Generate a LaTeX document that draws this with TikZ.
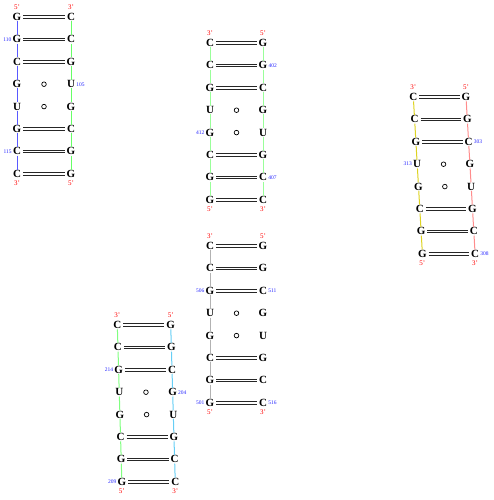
\documentclass[tikz,border=0pt]{standalone}
\usepackage{fontspec}
\setmainfont{Liberation Serif}
\usetikzlibrary{positioning,calc}

\tikzset{
  nt/.style={font=\fontsize{11}{11}\selectfont\bfseries, inner sep=0.6pt, text height=7pt, text depth=0pt},
  prime/.style={text=red, font=\fontsize{7}{7}\selectfont, inner sep=0pt},
  num/.style={text=blue!85, font=\fontsize{5.5}{5.5}\selectfont, inner sep=0.3pt},
  wc/.style={line width=0.85pt, black!85, shorten <=1.2pt, shorten >=1.2pt},
  gu/.style={circle, draw, minimum size=4.6pt, inner sep=0pt, line width=0.7pt},
  bb/.style={line width=1pt},
}

% one stem: name, left x, right x, shift per row, top y, rows
\newcommand{\stem}[6]{%
  \foreach \i/\a/\b in {#6}{
    \node[nt] (#1l\i) at ({#2+#4*(\i-1)},{#5+22.4*(\i-1)}) {\a};
    \node[nt] (#1r\i) at ({#3+#4*(\i-1)},{#5+22.4*(\i-1)}) {\b};
  }
  \foreach \i in {1,2,3,6,7,8}{
    \draw[wc] ([yshift=1.15pt]#1l\i.east) -- ([yshift=1.15pt]#1r\i.west);
    \draw[wc] ([yshift=-1.15pt]#1l\i.east) -- ([yshift=-1.15pt]#1r\i.west);
  }
  \foreach \i in {4,5} \node[gu] (#1w\i) at ($(#1l\i)!0.5!(#1r\i)$) {};
}
% backbone of one strand
\newcommand{\strand}[2]{%
  \foreach \i [evaluate=\i as \j using int(\i+1)] in {1,...,7} \draw[bb, #2] (#1\i) -- (#1\j);
}

\begin{document}
\begin{tikzpicture}[x=1pt, y=-1pt]
  \useasboundingbox (0,0) rectangle (493,500);

  % Helix 1
  \stem{h1}{17}{71}{0}{17}{1/G/C,2/G/C,3/C/G,4/G/U,5/U/G,6/G/C,7/C/G,8/C/G}
  \strand{h1l}{blue!65}
  \strand{h1r}{green!60}
  \node[prime, above=2.5pt of h1l1] (h1lt) {5'};
  \node[prime, above=2.5pt of h1r1] (h1rt) {3'};
  \node[prime, below=2.5pt of h1l8] (h1lb) {3'};
  \node[prime, below=2.5pt of h1r8] (h1rb) {5'};
  \node[num, left=0pt of h1l2] (n110) {110};
  \node[num, right=0pt of h1r4] (n105) {105};
  \node[num, left=0pt of h1l7] (n115) {115};

  % Helix 2
  \stem{h2}{210}{263}{0}{43}{1/C/G,2/C/G,3/G/C,4/U/G,5/G/U,6/C/G,7/G/C,8/G/C}
  \strand{h2l}{green!40}
  \strand{h2r}{green!40}
  \node[prime, above=2.5pt of h2l1] (h2lt) {3'};
  \node[prime, above=2.5pt of h2r1] (h2rt) {5'};
  \node[prime, below=2.5pt of h2l8] (h2lb) {5'};
  \node[prime, below=2.5pt of h2r8] (h2rb) {3'};
  \node[num, right=0pt of h2r2] (n402) {402};
  \node[num, left=0pt of h2l5] (n412) {412};
  \node[num, right=0pt of h2r7] (n407) {407};

  % Helix 3
  \stem{h3}{210}{263}{0}{246}{1/C/G,2/C/G,3/G/C,4/U/G,5/G/U,6/C/G,7/G/C,8/G/C}
  \strand{h3l}{gray!60}
  \node[prime, above=2.5pt of h3l1] (h3lt) {3'};
  \node[prime, above=2.5pt of h3r1] (h3rt) {5'};
  \node[prime, below=2.5pt of h3l8] (h3lb) {5'};
  \node[prime, below=2.5pt of h3r8] (h3rb) {3'};
  \node[num, left=0pt of h3l3] (n506) {506};
  \node[num, right=0pt of h3r3] (n511) {511};
  \node[num, left=0pt of h3l8] (n501) {501};
  \node[num, right=0pt of h3r8] (n516) {516};

  % Helix 4
  \stem{h4}{117.3}{170.7}{0.65}{325}{1/C/G,2/C/G,3/G/C,4/U/G,5/G/U,6/C/G,7/G/C,8/G/C}
  \strand{h4l}{green!50}
  \strand{h4r}{cyan!60}
  \node[prime, above=2.5pt of h4l1] (h4lt) {3'};
  \node[prime, above=2.5pt of h4r1] (h4rt) {5'};
  \node[prime, below=2.5pt of h4l8] (h4lb) {5'};
  \node[prime, below=2.5pt of h4r8] (h4rb) {3'};
  \node[num, left=0pt of h4l3] (n214) {214};
  \node[num, right=0pt of h4r4] (n204) {204};
  \node[num, left=0pt of h4l8] (n209) {209};

  % Helix 5
  \stem{h5}{413.3}{466}{1.3}{97}{1/C/G,2/C/G,3/G/C,4/U/G,5/G/U,6/C/G,7/G/C,8/G/C}
  \strand{h5l}{yellow!85!black}
  \strand{h5r}{red!45}
  \node[prime, above=2.5pt of h5l1] (h5lt) {3'};
  \node[prime, above=2.5pt of h5r1] (h5rt) {5'};
  \node[prime, below=2.5pt of h5l8] (h5lb) {5'};
  \node[prime, below=2.5pt of h5r8] (h5rb) {3'};
  \node[num, right=0pt of h5r3] (n303) {303};
  \node[num, left=0pt of h5l4] (n313) {313};
  \node[num, right=0pt of h5r8] (n308) {308};
\end{tikzpicture}
\end{document}
